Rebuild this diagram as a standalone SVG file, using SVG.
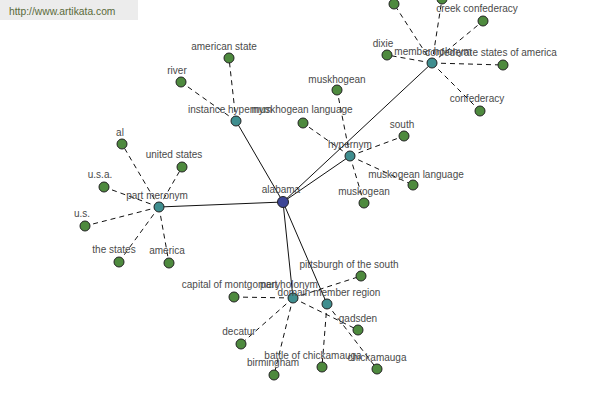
<svg xmlns="http://www.w3.org/2000/svg" width="600" height="400" viewBox="0 0 600 400">
<style>
.bg{fill:#ffffff}
.solid{stroke:#111;stroke-width:1;fill:none}
.dash{stroke:#111;stroke-width:1;fill:none;stroke-dasharray:5,4}
.n{stroke:#222;stroke-width:1}
.root{fill:#3c4596}
.hub{fill:#3f8e8f}
.leaf{fill:#4e8a3e}
text{font-family:"Liberation Sans",Arial,sans-serif;font-size:10px;fill:#4a4a4a;text-anchor:middle}
.wm{fill:#ececec}
.wmt{font-size:10.3px;fill:#5a6a3a;text-anchor:start}
</style>
<rect class="bg" x="0" y="0" width="600" height="400"/>
<g id="connectors">
<line class="solid" x1="283" y1="202" x2="159" y2="207"/>
<line class="solid" x1="283" y1="202" x2="236" y2="121"/>
<line class="solid" x1="283" y1="202" x2="350" y2="156"/>
<line class="solid" x1="283" y1="202" x2="432" y2="63"/>
<line class="solid" x1="283" y1="202" x2="293" y2="298"/>
<line class="solid" x1="283" y1="202" x2="327" y2="304"/>
<line class="dash" x1="159" y1="207" x2="122" y2="144"/>
<line class="dash" x1="159" y1="207" x2="182" y2="167"/>
<line class="dash" x1="159" y1="207" x2="104" y2="187"/>
<line class="dash" x1="159" y1="207" x2="85" y2="226"/>
<line class="dash" x1="159" y1="207" x2="119" y2="262"/>
<line class="dash" x1="159" y1="207" x2="169" y2="263"/>
<line class="dash" x1="236" y1="121" x2="229" y2="58"/>
<line class="dash" x1="236" y1="121" x2="181" y2="82"/>
<line class="dash" x1="350" y1="156" x2="337" y2="90"/>
<line class="dash" x1="350" y1="156" x2="303" y2="123"/>
<line class="dash" x1="350" y1="156" x2="404" y2="136"/>
<line class="dash" x1="350" y1="156" x2="413" y2="185"/>
<line class="dash" x1="350" y1="156" x2="364" y2="203"/>
<line class="dash" x1="432" y1="63" x2="394" y2="4"/>
<line class="dash" x1="432" y1="63" x2="442" y2="-1"/>
<line class="dash" x1="432" y1="63" x2="483" y2="21"/>
<line class="dash" x1="432" y1="63" x2="387" y2="55"/>
<line class="dash" x1="432" y1="63" x2="503" y2="65"/>
<line class="dash" x1="432" y1="63" x2="480" y2="111"/>
<line class="dash" x1="293" y1="298" x2="234" y2="297"/>
<line class="dash" x1="293" y1="298" x2="241" y2="344"/>
<line class="dash" x1="293" y1="298" x2="274" y2="375"/>
<line class="dash" x1="293" y1="298" x2="361" y2="276"/>
<line class="dash" x1="293" y1="298" x2="358" y2="330"/>
<line class="dash" x1="327" y1="304" x2="322" y2="367"/>
<line class="dash" x1="327" y1="304" x2="377" y2="369"/>
</g>
<g id="n-top1"><circle class="n leaf" cx="394" cy="4" r="5"/></g>
<g id="n-top2"><circle class="n leaf" cx="442" cy="-1" r="5"/></g>
<g id="n-al"><circle class="n leaf" cx="122" cy="144" r="5"/><text x="120" y="136">al</text></g>
<g id="n-united-states"><circle class="n leaf" cx="182" cy="167" r="5"/><text x="174" y="158">united states</text></g>
<g id="n-usa"><circle class="n leaf" cx="104" cy="187" r="5"/><text x="100" y="178">u.s.a.</text></g>
<g id="n-us"><circle class="n leaf" cx="85" cy="226" r="5"/><text x="82" y="217">u.s.</text></g>
<g id="n-the-states"><circle class="n leaf" cx="119" cy="262" r="5"/><text x="114" y="253">the states</text></g>
<g id="n-america"><circle class="n leaf" cx="169" cy="263" r="5"/><text x="167" y="254">america</text></g>
<g id="n-american-state"><circle class="n leaf" cx="229" cy="58" r="5"/><text x="224" y="50">american state</text></g>
<g id="n-river"><circle class="n leaf" cx="181" cy="82" r="5"/><text x="177" y="74">river</text></g>
<g id="n-muskhogean"><circle class="n leaf" cx="337" cy="90" r="5"/><text x="337" y="83">muskhogean</text></g>
<g id="n-muskhogean-language"><circle class="n leaf" cx="303" cy="123" r="5"/><text x="302" y="113">muskhogean language</text></g>
<g id="n-south"><circle class="n leaf" cx="404" cy="136" r="5"/><text x="402" y="128">south</text></g>
<g id="n-muskogean-language"><circle class="n leaf" cx="413" cy="185" r="5"/><text x="416" y="178">muskogean language</text></g>
<g id="n-muskogean"><circle class="n leaf" cx="364" cy="203" r="5"/><text x="364" y="195">muskogean</text></g>
<g id="n-dixie"><circle class="n leaf" cx="387" cy="55" r="5"/><text x="383" y="47">dixie</text></g>
<g id="n-creek-confederacy"><circle class="n leaf" cx="483" cy="21" r="5"/><text x="477" y="12">creek confederacy</text></g>
<g id="n-confederacy"><circle class="n leaf" cx="480" cy="111" r="5"/><text x="477" y="102">confederacy</text></g>
<g id="n-capital"><circle class="n leaf" cx="234" cy="297" r="5"/><text x="231" y="288">capital of montgomery</text></g>
<g id="n-decatur"><circle class="n leaf" cx="241" cy="344" r="5"/><text x="239" y="335">decatur</text></g>
<g id="n-birmingham"><circle class="n leaf" cx="274" cy="375" r="5"/><text x="273" y="366">birmingham</text></g>
<g id="n-pittsburgh"><circle class="n leaf" cx="361" cy="276" r="5"/><text x="349" y="268">pittsburgh of the south</text></g>
<g id="n-gadsden"><circle class="n leaf" cx="358" cy="330" r="5"/><text x="358" y="322">gadsden</text></g>
<g id="n-battle"><circle class="n leaf" cx="322" cy="367" r="5"/><text x="313" y="359">battle of chickamauga</text></g>
<g id="n-chickamauga"><circle class="n leaf" cx="377" cy="369" r="5"/><text x="377" y="361">chickamauga</text></g>
<g id="n-part-meronym"><circle class="n hub" cx="159" cy="207" r="5"/><text x="157" y="199">part meronym</text></g>
<g id="n-instance-hypernym"><circle class="n hub" cx="236" cy="121" r="5"/><text x="230" y="113">instance hypernym</text></g>
<g id="n-hypernym"><circle class="n hub" cx="350" cy="156" r="5"/><text x="350" y="148">hypernym</text></g>
<g id="n-member-holonym"><circle class="n hub" cx="432" cy="63" r="5"/><text x="433" y="55">member holonym</text></g>
<g id="n-confederate-states"><circle class="n leaf" cx="503" cy="65" r="5"/><text x="491" y="56">confederate states of america</text></g>
<g id="n-part-holonym"><circle class="n hub" cx="293" cy="298" r="5"/><text x="289" y="288">part holonym</text></g>
<g id="n-domain-member-region"><circle class="n hub" cx="327" cy="304" r="5"/><text x="329" y="296">domain member region</text></g>
<g id="n-alabama"><circle class="n root" cx="283" cy="202" r="5.5"/><text x="281" y="193">alabama</text></g>
<g id="watermark"><rect class="wm" x="0" y="0" width="138" height="20"/><text class="wmt" x="9" y="15">http://www.artikata.com</text></g>
</svg>
